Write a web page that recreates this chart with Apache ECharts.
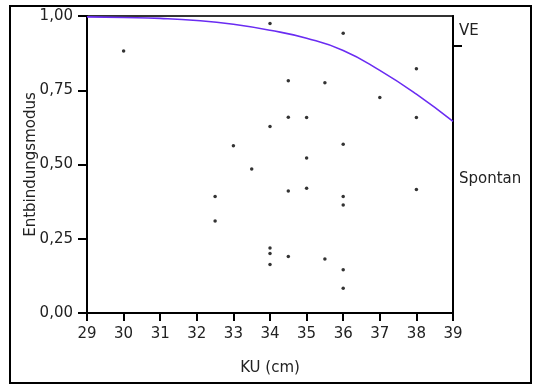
<!DOCTYPE html>
<html>
<head>
<meta charset="utf-8">
<script src="https://cdn.jsdelivr.net/npm/echarts@6/dist/echarts.min.js"></script>
<style>
  html, body { margin: 0; padding: 0; background: #fff; }
  #chart { width: 533px; height: 385px; }
</style>
</head>
<body>
<div id="chart"></div>
<script>
// Observations: head circumference (KU, cm) and plotted position of each birth
const kuValues = [30, 34, 36, 34.5, 35.5, 38, 37, 34.5, 35, 38, 34,
                  33, 36, 35, 33.5, 34.5, 35, 38, 32.5, 36, 36, 32.5,
                  34, 34, 34.5, 35.5, 34, 36, 36];
const modusValues = [0.882, 0.975, 0.942, 0.782, 0.775, 0.822, 0.726, 0.659, 0.658, 0.658, 0.628,
                     0.563, 0.568, 0.522, 0.485, 0.411, 0.420, 0.416, 0.392, 0.392, 0.364, 0.310,
                     0.219, 0.200, 0.190, 0.182, 0.163, 0.146, 0.083];

// Fitted logistic probability curve (boundary between outcome groups)
const curveKU   = [29, 30, 31, 32, 33, 34, 35, 36, 37, 38, 39];
const curveProb = [0.997, 0.995, 0.992, 0.985, 0.972, 0.952, 0.925, 0.884, 0.817, 0.737, 0.645];

// Axis ticks
const xTicks = [29, 39, 1];          // min, max, step
const yTicks = [0, 1, 0.25];         // min, max, step
const outcomeLabels = ['VE', 'Spontan'];
const outcomeSplit = 0.9;            // right-axis boundary between outcome groups
const outcomeLabelPos = [0.95, 0.45];

const scatterData = kuValues.map((k, i) => [k, modusValues[i]]);
const curveData = curveKU.map((k, i) => [k, curveProb[i]]);

const FONT = 'DejaVu Sans';
const TEXT = '#222';
const FS = 15;

const chart = echarts.init(document.getElementById('chart'), null, { renderer: 'canvas' });
chart.setOption({
  animation: false,
  backgroundColor: '#fff',
  textStyle: { fontFamily: FONT },
  grid: {
    left: 87, top: 16, right: 80, bottom: 72,
    show: true, borderColor: '#333', borderWidth: 2
  },
  graphic: [{
    type: 'rect',
    shape: { x: 10, y: 6, width: 521, height: 377 },
    style: { fill: 'none', stroke: '#000', lineWidth: 2 },
    silent: true
  }],
  xAxis: {
    type: 'value',
    min: xTicks[0], max: xTicks[1], interval: xTicks[2],
    name: 'KU (cm)',
    nameLocation: 'middle',
    nameGap: 48,
    nameMoveOverlap: false,
    nameTextStyle: { fontFamily: FONT, fontSize: FS, color: TEXT },
    axisLine: { show: true, onZero: false, lineStyle: { color: '#000', width: 2 } },
    axisTick: { show: true, length: 8, lineStyle: { color: '#000', width: 2 } },
    axisLabel: { fontFamily: FONT, fontSize: FS, color: TEXT, margin: 14 },
    splitLine: { show: false }
  },
  yAxis: [{
    type: 'value',
    min: yTicks[0], max: yTicks[1], interval: yTicks[2],
    name: 'Entbindungsmodus',
    nameLocation: 'middle',
    nameGap: 48,
    nameMoveOverlap: false,
    nameTextStyle: { fontFamily: FONT, fontSize: FS, color: TEXT },
    axisLine: { show: true, lineStyle: { color: '#000', width: 2 } },
    axisTick: { show: true, length: 9, lineStyle: { color: '#000', width: 2 } },
    axisLabel: {
      fontFamily: FONT, fontSize: FS, color: TEXT, margin: 14,
      formatter: v => v.toFixed(2).replace('.', ',')
    },
    splitLine: { show: false }
  }, {
    type: 'value',
    position: 'right',
    min: 0, max: 1,
    axisLine: { show: true, lineStyle: { color: '#000', width: 2 } },
    axisTick: {
      show: true, length: 9, customValues: [outcomeSplit],
      lineStyle: { color: '#000', width: 2 }
    },
    axisLabel: {
      fontFamily: FONT, fontSize: FS, color: TEXT, margin: 6,
      customValues: outcomeLabelPos,
      formatter: v => (v > outcomeSplit ? outcomeLabels[0] : outcomeLabels[1])
    },
    splitLine: { show: false }
  }],
  series: [{
    type: 'line',
    data: curveData,
    smooth: true,
    showSymbol: false,
    lineStyle: { color: '#6a2cf2', width: 1.6 },
    z: 2
  }, {
    type: 'scatter',
    data: scatterData,
    symbol: 'circle',
    symbolSize: 3.5,
    itemStyle: { color: '#000' },
    z: 3
  }]
});
</script>
</body>
</html>
